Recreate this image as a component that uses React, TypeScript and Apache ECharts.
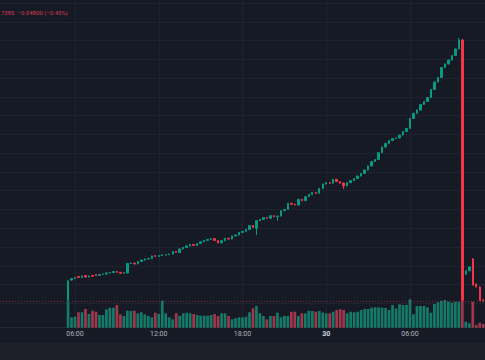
import React, { useEffect, useRef } from "react";
import * as echarts from "echarts";

// ---- time slots (15-minute bars) ----
const FIRST_DAY = 29;
const FIRST_MINUTE_OF_DAY = 45; // 00:45
const STEP_MINUTES = 15;
const SLOT_COUNT = 139;
const FIRST_CANDLE_SLOT = 19; // 05:30

// ---- candle values (one entry per 15-min bar from 05:30 on day 29) ----
const opens = [
  10.25, 12.48, 12.64, 12.86, 12.75, 12.96, 12.80, 12.96, 13.07, 12.96,
  13.07, 13.12, 13.23, 13.28, 13.39, 13.30, 13.20, 13.23, 14.24, 14.29,
  14.19, 14.45, 14.61, 14.72, 14.77, 15.09, 14.99, 15.09, 15.15, 15.20,
  15.25, 15.52, 15.41, 15.79, 15.95, 16.11, 16.27, 16.16, 16.37, 16.56,
  16.71, 16.80, 16.90, 16.69, 16.43, 16.67, 16.93, 16.85, 17.17, 17.28,
  17.54, 17.67, 17.86, 18.29, 17.99, 18.80, 18.93, 19.14, 19.06, 19.33,
  19.22, 19.30, 19.87, 20.00, 20.66, 20.55, 20.47, 21.08, 20.93, 21.36,
  21.59, 21.81, 21.72, 22.23, 22.71, 22.87, 22.80, 23.21, 22.98, 22.82,
  22.50, 22.85, 23.08, 23.30, 23.56, 23.83, 24.20, 24.63, 25.11, 25.32,
  26.05, 26.65, 27.03, 27.35, 27.56, 27.62, 27.93, 28.31, 28.63, 29.69,
  30.25, 30.60, 31.18, 31.50, 31.93, 32.78, 33.58, 34.06, 35.13, 35.50,
  35.92, 36.40, 37.10, 38.06, 13.12, 13.47, 14.72, 12.06, 11.74, 10.35,
];
const closes = [
  12.38, 12.64, 12.75, 12.75, 12.91, 12.80, 12.91, 12.88, 12.96, 13.07,
  13.12, 13.23, 13.28, 13.39, 13.30, 13.20, 13.25, 14.24, 14.29, 14.19,
  14.45, 14.61, 14.72, 14.77, 15.04, 14.99, 15.09, 15.15, 15.20, 15.25,
  15.52, 15.41, 15.79, 15.95, 16.11, 16.27, 16.16, 16.37, 16.56, 16.71,
  16.80, 16.90, 16.69, 16.43, 16.67, 16.93, 16.85, 17.17, 17.28, 17.54,
  17.67, 17.86, 18.29, 18.08, 18.80, 18.93, 19.14, 19.06, 19.33, 19.22,
  19.30, 19.87, 20.00, 20.66, 20.55, 20.47, 21.08, 20.93, 21.36, 21.59,
  21.81, 21.72, 22.23, 22.71, 22.87, 22.80, 23.21, 22.98, 22.79, 22.50,
  22.85, 23.08, 23.30, 23.56, 23.83, 24.20, 24.63, 25.11, 25.32, 26.05,
  26.65, 27.03, 27.35, 27.56, 27.62, 27.93, 28.31, 28.63, 29.69, 30.25,
  30.60, 31.18, 31.50, 31.93, 32.78, 33.58, 34.06, 35.13, 35.50, 35.92,
  36.40, 37.10, 38.06, 10.35, 13.47, 13.87, 11.95, 11.74, 10.30, 10.25,
];
const lows = [
  10.20, 12.42, 12.60, 12.70, 12.70, 12.76, 12.77, 12.84, 12.92, 12.93,
  13.03, 13.08, 13.19, 13.24, 13.26, 13.15, 13.16, 13.20, 14.18, 14.14,
  14.15, 14.40, 14.57, 14.68, 14.73, 14.95, 14.95, 15.04, 15.10, 15.16,
  15.21, 15.36, 15.38, 15.75, 15.91, 16.07, 16.12, 16.12, 16.33, 16.52,
  16.67, 16.76, 16.65, 16.39, 16.39, 16.63, 16.80, 16.81, 17.13, 17.24,
  17.50, 17.63, 17.82, 18.03, 17.28, 18.76, 18.89, 19.01, 19.02, 19.18,
  18.77, 19.26, 19.83, 19.96, 20.50, 20.43, 20.43, 20.89, 20.89, 21.32,
  21.55, 21.66, 21.68, 22.19, 22.67, 22.75, 22.76, 22.94, 22.75, 22.18,
  22.46, 22.81, 23.04, 23.26, 23.52, 23.79, 24.16, 24.59, 25.07, 25.28,
  26.01, 26.61, 26.99, 27.31, 27.50, 27.58, 27.89, 28.27, 28.59, 29.65,
  30.21, 30.56, 31.14, 31.46, 31.89, 32.74, 33.54, 34.02, 35.09, 35.46,
  35.88, 36.36, 37.06, 10.25, 13.05, 13.42, 11.90, 11.70, 10.25, 10.20,
];
const highs = [
  12.50, 12.70, 12.80, 12.92, 12.95, 13.00, 12.95, 13.00, 13.12, 13.10,
  13.16, 13.27, 13.33, 13.43, 13.44, 13.34, 13.30, 14.30, 14.34, 14.33,
  14.50, 14.65, 14.76, 14.82, 15.08, 15.13, 15.13, 15.22, 15.24, 15.29,
  15.56, 15.56, 15.83, 15.99, 16.15, 16.31, 16.31, 16.41, 16.60, 16.75,
  16.84, 16.94, 16.94, 16.73, 16.71, 16.97, 16.97, 17.21, 17.32, 17.58,
  17.71, 17.90, 18.33, 18.33, 18.85, 18.97, 19.18, 19.18, 19.37, 19.37,
  19.34, 19.91, 20.04, 20.70, 20.70, 20.59, 21.12, 21.12, 21.40, 21.63,
  21.85, 21.86, 22.27, 22.75, 22.91, 22.91, 23.25, 23.25, 23.02, 22.86,
  22.89, 23.12, 23.34, 23.60, 23.87, 24.24, 24.67, 25.15, 25.36, 26.10,
  26.70, 27.07, 27.39, 27.60, 27.66, 27.97, 28.35, 28.67, 29.74, 30.30,
  30.65, 31.23, 31.55, 31.98, 32.83, 33.63, 34.11, 35.18, 35.55, 35.97,
  36.45, 37.15, 38.27, 38.16, 13.52, 13.92, 14.83, 12.10, 11.80, 10.40,
];
const volumes = [
  26, 10.4, 11, 15.4, 15.4, 18.7, 13.7, 17, 16, 12.7,
  12.7, 18.4, 20, 20, 22.7, 13.4, 11.7, 17, 16.7, 17,
  14.4, 15.4, 13.4, 11.7, 10.4, 15, 13.7, 27, 14.4, 10.4,
  8.4, 14.4, 11.7, 14.4, 15, 14.4, 13.7, 12.7, 12, 12,
  12, 12.7, 13.7, 11.7, 14.4, 14.4, 11.7, 8.4, 9.4, 10.4,
  10.4, 11, 15.4, 19.4, 21.7, 14.4, 11.7, 8.4, 11.7, 11.7,
  15, 10.4, 11.7, 11.7, 16, 16, 11.7, 14.4, 14.4, 17,
  16.7, 16, 16.7, 15.2, 14.4, 14.4, 16, 17.7, 18.4, 17.7,
  14.4, 16, 15.4, 16, 17.7, 18.7, 18.7, 20, 20.4, 20.4,
  20, 19.7, 17.7, 22.7, 19.2, 23.4, 22.7, 22.7, 28.4, 13.4,
  21.7, 21.7, 21.7, 20.4, 15, 23.7, 25.4, 27, 27.7, 26,
  25, 26, 26, 34, 6, 4.4, 26, 2.7, 5, 3.7,
];

const LEGEND_TEXT = "7385  \u22120.04800 (\u22120.45%)";

const BG = "#161a25";
const GRID = "#1f2331";
const UP = "#089981";
const DOWN = "#f23645";
const VOL_UP = "#157a68";
const VOL_DOWN = "#a0374b";

const pad2 = (n: number) => String(n).padStart(2, "0");
const times: string[] = Array.from({ length: SLOT_COUNT }, (_, i) => {
  const total = FIRST_MINUTE_OF_DAY + i * STEP_MINUTES;
  const day = FIRST_DAY + Math.floor(total / 1440);
  const m = total % 1440;
  return `${day} ${pad2(Math.floor(m / 60))}:${pad2(m % 60)}`;
});

const isMajor = (_index: number, value: string) => {
  const t = String(value).split(" ")[1] || "";
  const [h, m] = t.split(":").map(Number);
  return m === 0 && h % 6 === 0;
};

export default function App() {
  const ref = useRef<HTMLDivElement>(null);
  useEffect(() => {
    if (!ref.current) return;
    const chart = echarts.init(ref.current, null, { renderer: "svg" });
    const candleData = opens.map((o, k) => [FIRST_CANDLE_SLOT + k, o, closes[k], lows[k], highs[k]]);
    const volumeData = volumes.map((v, k) => ({
      value: [FIRST_CANDLE_SLOT + k, v],
      itemStyle: { color: closes[k] >= opens[k] ? VOL_UP : VOL_DOWN },
    }));
    const lastClose = closes[closes.length - 1];
    const font = "Roboto, 'Liberation Sans', sans-serif";
    chart.setOption({
      animation: false,
      backgroundColor: BG,
      grid: [
        { left: 0, top: 3, width: 485, height: 300.3 },
        { left: 0, top: 0, width: 485, height: 327.7 },
      ],
      xAxis: [
        { type: "category", gridIndex: 0, data: times, boundaryGap: true, show: false },
        {
          type: "category",
          gridIndex: 1,
          data: times,
          boundaryGap: true,
          axisLine: { show: true, lineStyle: { color: "#262a36", width: 1 } },
          axisTick: { show: false },
          axisLabel: {
            interval: isMajor,
            margin: 3,
            fontSize: 7,
            fontFamily: font,
            color: "#b2b5be",
            formatter: (value: string) => {
              const [d, t] = String(value).split(" ");
              return t === "00:00" ? `{b|${d}}` : t;
            },
            rich: { b: { fontSize: 7, fontWeight: "bold", color: "#d1d4dc", fontFamily: font } },
          },
          splitLine: {
            show: true,
            interval: isMajor,
            alignWithLabel: true,
            lineStyle: { color: GRID, width: 1 },
          },
        },
      ],
      yAxis: [
        {
          type: "value",
          gridIndex: 0,
          min: 10,
          max: 42,
          interval: 2,
          axisLabel: { show: false },
          axisLine: { show: false },
          axisTick: { show: false },
          splitLine: { show: true, lineStyle: { color: GRID, width: 1 } },
        },
        { type: "value", gridIndex: 1, min: 0, max: 327.7, show: false, splitLine: { show: false } },
      ],
      series: [
        {
          type: "bar",
          xAxisIndex: 1,
          yAxisIndex: 1,
          data: volumeData,
          encode: { x: 0, y: 1 },
          barWidth: "78%",
          z: 1,
        },
        {
          type: "candlestick",
          xAxisIndex: 0,
          yAxisIndex: 0,
          data: candleData,
          encode: { x: 0, y: [1, 2, 3, 4] },
          barWidth: "55%",
          z: 3,
          itemStyle: {
            color: UP,
            color0: DOWN,
            borderColor: UP,
            borderColor0: DOWN,
            borderWidth: 1,
          },
          markLine: {
            silent: true,
            symbol: ["none", "none"],
            label: { show: false },
            lineStyle: { color: "rgba(242,54,69,0.5)", type: [1, 2], width: 1 },
            data: [{ yAxis: lastClose }],
          },
        },
      ],
      graphic: [
        {
          type: "rect",
          shape: { x: 0, y: 343, width: 485, height: 17 },
          style: { fill: "#1e2029" },
          silent: true,
        },
        {
          type: "text",
          x: 1,
          y: 9,
          style: {
            text: LEGEND_TEXT,
            fill: "#d8394f",
            fontSize: 6,
            fontFamily: font,
          },
          silent: true,
        },
      ],
    });
    return () => chart.dispose();
  }, []);
  return (
    <div
      ref={ref}
      style={{ position: "fixed", left: 0, top: 0, width: 485, height: 360, background: BG }}
    />
  );
}
